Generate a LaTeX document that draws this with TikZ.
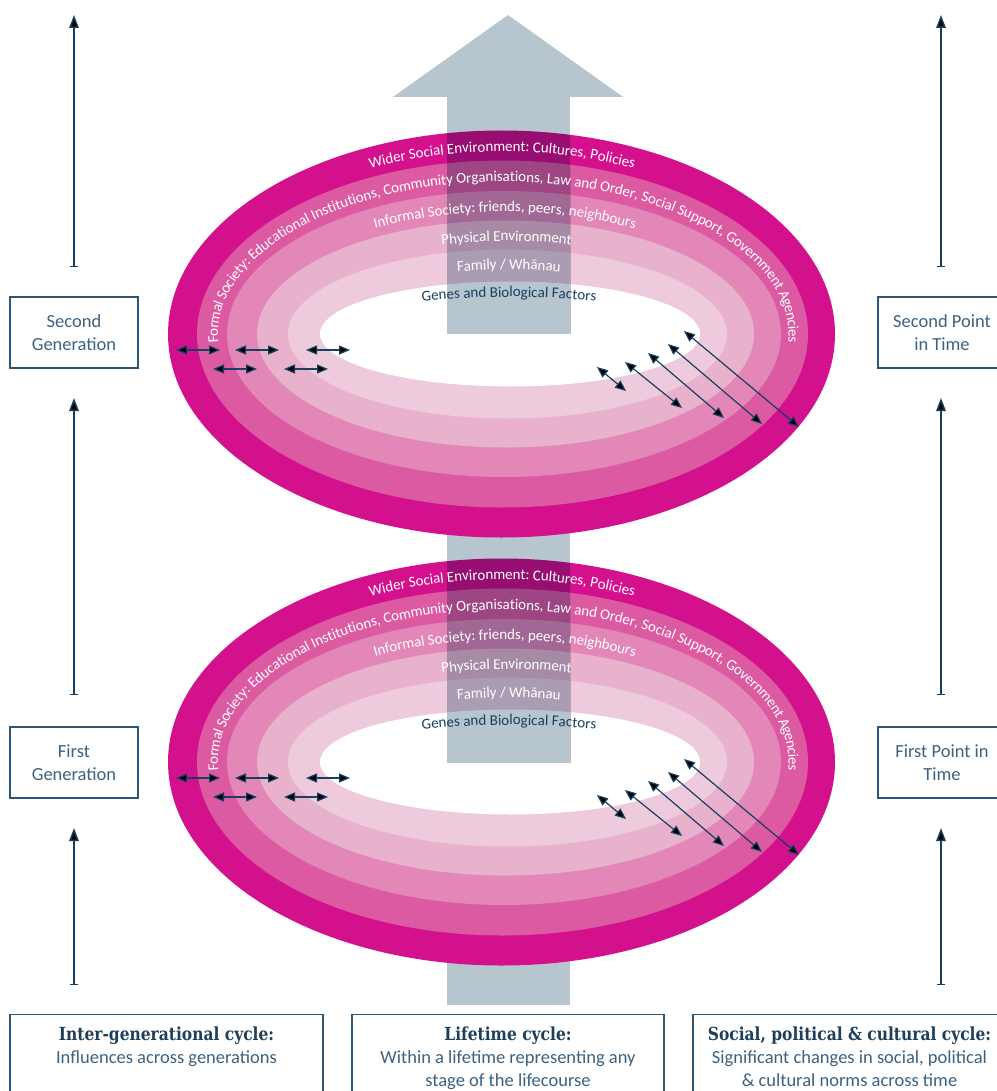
\documentclass[tikz,border=0pt]{standalone}
\usepackage{fontspec}
\setmainfont{Carlito}
\newfontfamily\slabfont[FakeStretch=0.86]{DejaVu Serif}
\usetikzlibrary{arrows.meta,decorations.text}
\definecolor{band0}{HTML}{D3118D}
\definecolor{band1}{HTML}{DB5AA1}
\definecolor{band2}{HTML}{E287B8}
\definecolor{band3}{HTML}{E8B2CD}
\definecolor{band4}{HTML}{EDCADC}
\definecolor{mix0}{HTML}{970D72}
\definecolor{mix1}{HTML}{9D4683}
\definecolor{mix2}{HTML}{A26895}
\definecolor{mix3}{HTML}{A78AA6}
\definecolor{mix4}{HTML}{AA9CB3}
\definecolor{barc}{HTML}{B7C5CF}
\definecolor{navy}{HTML}{173F5F}
\definecolor{boxline}{HTML}{2D5576}
\definecolor{boxtext}{HTML}{3D6280}
\definecolor{titletext}{HTML}{1E3F5A}
\newcommand\ringfont{\fontsize{15}{18}\selectfont}
\newcommand\torusfill[6]{%
  \fill[#1] (501.5,334) ellipse [x radius=333.5, y radius=203.5];
  \fill[#2] (502.5,334) ellipse [x radius=305.5, y radius=173.5];
  \fill[#3] (504,334) ellipse [x radius=277, y radius=143];
  \fill[#4] (505.5,334) ellipse [x radius=248.5, y radius=113.5];
  \fill[#5] (507.5,334) ellipse [x radius=219.5, y radius=84.5];
  \fill[#6] (510,334) ellipse [x radius=190, y radius=52.5];}
\newcommand\ringtext[6]{%
  \path[decorate, decoration={text along path, text align=center, raise=#4,
     text color=#5, text={|\ringfont|#6}}]
     ([shift={(165:#2 and #3)}]#1,334) arc [start angle=165, end angle=375, x radius=#2, y radius=#3];}
\newcommand\torustexts{%
  \ringtext{502}{319.5}{188.5}{-6pt}{white}{Wider Social Environment: Cultures, Policies}
  \ringtext{503.25}{291.25}{158.25}{-6pt}{white}{Formal Society: Educational Institutions, Community Organisations, Law and Order, Social Support, Government Agencies}
  \ringtext{504.75}{262.75}{128.25}{-6pt}{white}{Informal Society: friends, peers, neighbours}
  \ringtext{506.5}{234}{99}{-6pt}{white}{Physical Environment}
  \ringtext{508.75}{204.75}{68.5}{-4pt}{white}{Family / Whānau}
  \ringtext{509}{185}{37}{0pt}{navy}{Genes and Biological Factors}
  \foreach \xa/\ya/\xb/\yb in {176/350/220/350, 235/350/279/350, 306/350/350/350,
      213/369/257/369, 284/369/328/369, 597/367/626/391, 625/362/682/408,
      648/353/724/418, 668/344/762/424, 684/331/799/427}
    \draw[darr] (\xa,\ya) -- (\xb,\yb);}
\tikzset{
  vbox/.style={draw=boxline, line width=1.3pt, fill=white, minimum width=128pt,
    minimum height=71pt, align=center, text=boxtext, inner sep=0pt,
    font=\fontsize{18.5}{23}\selectfont},
  bbox/.style={draw=boxline, line width=1.3pt, fill=white, minimum height=100pt, inner sep=0pt},
  titletxt/.style={anchor=base, text=titletext, font=\slabfont\bfseries\fontsize{18}{22}\selectfont},
  subtxt/.style={anchor=base, text=boxtext, font=\fontsize{18.5}{23}\selectfont},
  varr/.style={draw=navy, line width=1.5pt, {Bar[width=8pt,line width=1.3pt]}-{Triangle[length=13pt,width=9.5pt]}},
  darr/.style={draw=navy, line width=1.2pt, {Triangle[length=11pt,width=9pt]}-{Triangle[length=11pt,width=9pt]}},
}
\begin{document}
\begin{tikzpicture}[x=1pt,y=-1pt]
\useasboundingbox (0,0) rectangle (996,1091);
\fill[white] (0,0) rectangle (996,1091);
% bottom piece of the big arrow (behind lower torus)
\fill[barc] (447,762) rectangle (570,1005);
% lower torus
\begin{scope}[shift={(0,428)}]
  \torusfill{band0}{band1}{band2}{band3}{band4}{white}
  \begin{scope}
    \clip (447,72) rectangle (570,334);
    \fill[barc] (447,72) rectangle (570,334);
    \torusfill{mix0}{mix1}{mix2}{mix3}{mix4}{barc}
  \end{scope}
\end{scope}
% upper torus
\torusfill{band0}{band1}{band2}{band3}{band4}{white}
\begin{scope}
  \clip (447,96) rectangle (570,333);
  \fill[barc] (447,96) rectangle (570,333);
  \torusfill{mix0}{mix1}{mix2}{mix3}{mix4}{barc}
\end{scope}
\fill[barc] (393,97) -- (508,15) -- (623,97) -- cycle;
% texts and arrows on both tori
\torustexts
\begin{scope}[shift={(0,428)}]
  \torustexts
\end{scope}
% left column
\node[vbox] (secgen) at (74,332.5) {Second\\Generation};
\node[vbox] (firstgen) at (74,762.5) {First\\Generation};
\coordinate (lt1) at (74,267); \coordinate (lh1) at (74,15);
\coordinate (lt2) at (74,695); \coordinate (lh2) at (74,398);
\coordinate (lt3) at (74,985); \coordinate (lh3) at (74,828);
\draw[varr] (lt1) -- (lh1);
\draw[varr] (lt2) -- (lh2);
\draw[varr] (lt3) -- (lh3);
% right column
\node[vbox] (secpt) at (942,332.5) {Second Point\\in Time};
\node[vbox] (firstpt) at (942,762.5) {First Point in\\Time};
\coordinate (rt1) at (941,267); \coordinate (rh1) at (941,15);
\coordinate (rt2) at (941,695); \coordinate (rh2) at (941,398);
\coordinate (rt3) at (941,985); \coordinate (rh3) at (941,828);
\draw[varr] (rt1) -- (rh1);
\draw[varr] (rt2) -- (rh2);
\draw[varr] (rt3) -- (rh3);
% bottom boxes
\node[bbox, minimum width=313pt, anchor=north] (ibox) at (166.5,1014) {};
\node[bbox, minimum width=312pt, anchor=north] (lbox) at (508,1014) {};
\node[bbox, minimum width=313pt, anchor=north] (sbox) at (849.5,1014) {};
\node[titletxt] (ititle) at (166.5,1040) {Inter-generational cycle:};
\node[subtxt] (isub) at (166.5,1063) {Influences across generations};
\node[titletxt] (ltitle) at (508,1040) {Lifetime cycle:};
\node[subtxt] (lsub1) at (508,1063) {Within a lifetime representing any};
\node[subtxt] (lsub2) at (508,1086) {stage of the lifecourse};
\node[titletxt] (stitle) at (849.5,1040) {Social, political \& cultural cycle:};
\node[subtxt] (ssub1) at (849.5,1063) {Significant changes in social, political};
\node[subtxt] (ssub2) at (849.5,1086) {\& cultural norms across time};
\end{tikzpicture}
\end{document}
